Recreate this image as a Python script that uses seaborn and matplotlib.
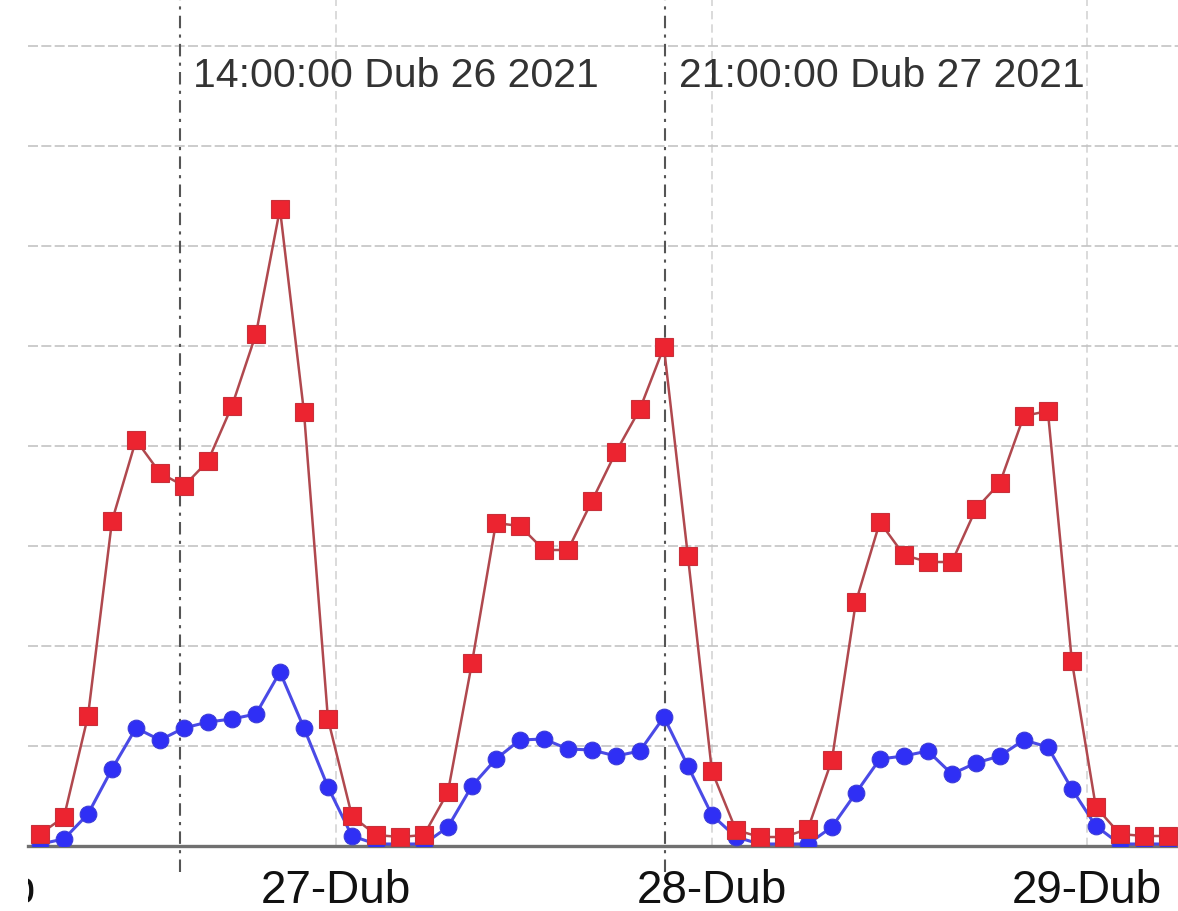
import pandas as pd
import numpy as np
import matplotlib
matplotlib.use("Agg")
import matplotlib.pyplot as plt
from matplotlib.transforms import Bbox, TransformedBbox
import seaborn as sns

# data (one sample every ~92 minutes)
start = "2021-04-26 05:05"
n_points = 48
red_vals = [1.2, 2.9, 13.0, 32.5, 40.6, 37.3, 36.0, 38.5, 44.0, 51.2, 63.7, 43.4,
            12.7, 3.0, 1.1, 0.9, 1.1, 5.4, 18.3, 32.3, 32.0, 29.6, 29.6, 34.5,
            39.4, 43.7, 49.9, 29.0, 7.5, 1.6, 0.9, 0.9, 1.7, 8.6, 24.4, 32.4,
            29.1, 28.4, 28.4, 33.7, 36.3, 43.0, 43.5, 18.5, 3.9, 1.2, 1.0, 1.0]
blue_vals = [0.2, 0.7, 3.2, 7.7, 11.8, 10.6, 11.8, 12.4, 12.7, 13.2, 17.4, 11.8,
             5.9, 1.0, 0.2, 0.2, 0.2, 1.9, 6.0, 8.7, 10.6, 10.7, 9.7, 9.6,
             9.0, 9.5, 12.9, 8.0, 3.1, 0.9, 0.2, 0.2, 0.2, 1.9, 5.3, 8.7,
             9.0, 9.5, 7.2, 8.3, 9.0, 10.6, 9.9, 5.7, 2.0, 0.2, 0.2, 0.2]
day_ticks = ["2021-04-26", "2021-04-27", "2021-04-28", "2021-04-29"]
day_labels = ["26-Dub", "27-Dub", "28-Dub", "29-Dub"]
marker_times = ["2021-04-26 14:00", "2021-04-27 21:00"]
marker_labels = ["14:00:00 Dub 26 2021", "21:00:00 Dub 27 2021"]

times = pd.date_range(start, periods=n_points, freq="92min")
df = pd.DataFrame({"time": times, "red": red_vals, "blue": blue_vals})

sns.set_theme(style="white")
plt.rcParams["font.family"] = ["Liberation Sans", "DejaVu Sans"]

fig = plt.figure(figsize=(11.78, 9.12), dpi=100)
ax = fig.add_axes([28 / 1178, 65 / 912, 1150 / 1178, 850 / 912])

sns.lineplot(data=df, x="time", y="blue", ax=ax, color="#4a4ae6", linewidth=2.2,
             marker="o", markersize=12, markerfacecolor="#2f2ff5",
             markeredgecolor="#3b3bd8", markeredgewidth=0.8, zorder=3)
sns.lineplot(data=df, x="time", y="red", ax=ax, color="#b0484e", linewidth=1.8,
             marker="s", markersize=12.5, markerfacecolor="#ec2430",
             markeredgecolor="#c8303a", markeredgewidth=0.8, zorder=4)

ax.set_xticks(pd.to_datetime(day_ticks))
ax.set_xticklabels(day_labels)
ax.set_xlim(pd.Timestamp("2021-04-26 04:19"), pd.Timestamp("2021-04-29 05:48"))
ax.set_yticks(np.arange(10, 81, 10))
ax.set_yticklabels([])
ax.set_ylim(0, 85)
ax.tick_params(axis="y", length=0)
ax.tick_params(axis="x", labelsize=33, length=6, width=1.5, color="#333333",
               pad=10, labelcolor="#111111", direction="out")
ax.set_xlabel("")
ax.set_ylabel("")

ax.grid(True, axis="y", color="#c4c4c4", linestyle=(0, (6, 2)), linewidth=1.2)
ax.grid(True, axis="x", color="#d4d4d4", linestyle=(0, (5, 3)), linewidth=1.2)

for side in ["top", "right", "left"]:
    ax.spines[side].set_visible(False)
ax.spines["bottom"].set_color("#707070")
ax.spines["bottom"].set_linewidth(2.4)

for t, lbl in zip(marker_times, marker_labels):
    ax.axvline(pd.Timestamp(t), ymin=-0.03, ymax=1, color="#555555",
               linestyle=(0, (6, 3, 1.5, 3)), linewidth=1.5, clip_on=False, zorder=2)
    ax.annotate(lbl, xy=(pd.Timestamp(t), 77.1), xytext=(10, 0),
                textcoords="offset points", va="center", ha="left",
                fontsize=29.5, color="#333333")

# the first day label sits mostly left of the plot area and is cut off there
clip = TransformedBbox(Bbox([[0, -1], [1.2, 1]]), ax.transAxes)
first = ax.annotate(day_labels[0], xy=(pd.Timestamp(day_ticks[0]), 0),
                    xytext=(0, -16), textcoords="offset points",
                    va="top", ha="center", fontsize=33, color="#111111",
                    annotation_clip=False)
first.set_clip_box(clip)
first.set_clip_on(True)

fig.savefig("out.png", dpi=100, facecolor="white")
